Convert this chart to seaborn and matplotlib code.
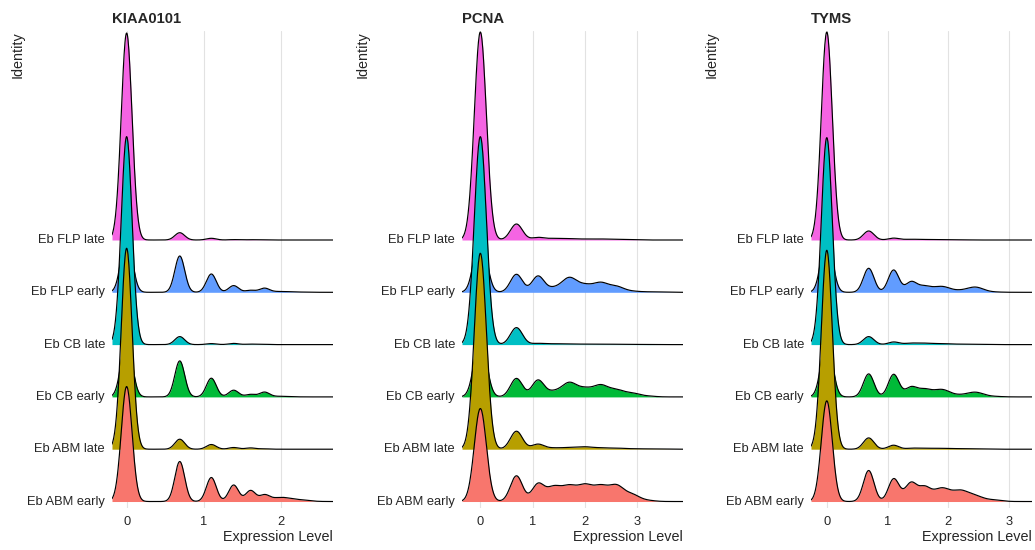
import numpy as np
import pandas as pd
import matplotlib
matplotlib.use("Agg")
import matplotlib.pyplot as plt
import seaborn as sns

# ---------------- data ----------------
GROUPS = ["Eb ABM early", "Eb ABM late", "Eb CB early", "Eb CB late", "Eb FLP early", "Eb FLP late"]
COLORS = ["#F8766D", "#B79F00", "#00BA38", "#00BFC4", "#619CFF", "#F564E3"]
GENES = ["KIAA0101", "PCNA", "TYMS"]

# density support (expression level) for each gene
KIAA0101_RANGE = [-0.19, 2.68]
PCNA_RANGE = [-0.35, 3.87]
TYMS_RANGE = [-0.26, 3.38]

KIAA0101_TICKS = [0, 1, 2]
PCNA_TICKS = [0, 1, 2, 3]
TYMS_TICKS = [0, 1, 2, 3]

# density components: centre (expression level) and kernel width
KIAA0101_CENTERS = [0.0, 0.69, 1.10, 1.39, 1.61, 1.79, 2.00, 2.25]
KIAA0101_WIDTHS = [0.07, 0.064, 0.064, 0.064, 0.064, 0.064, 0.12, 0.12]
# component densities per group (order of GROUPS)
KIAA0101_ABM_EARLY = [115, 40, 24, 16.5, 11, 6, 4, 1.5]
KIAA0101_ABM_LATE = [201, 10, 4.7, 1.7, 1.3, 0.4, 0, 0]
KIAA0101_CB_EARLY = [60, 36, 18.7, 6.7, 2.5, 4.7, 0.6, 0]
KIAA0101_CB_LATE = [208, 8, 1, 1.2, 0.5, 0.3, 0, 0]
KIAA0101_FLP_EARLY = [60, 36.3, 18.3, 6.7, 2, 4, 0.8, 0.2]
KIAA0101_FLP_LATE = [207, 7.3, 1.7, 0.4, 0.3, 0.2, 0, 0]

PCNA_CENTERS = [0.0, 0.69, 1.10, 1.4, 1.7, 2.0, 2.3, 2.6, 2.9, 3.2, 3.5]
PCNA_WIDTHS = [0.115, 0.115, 0.115, 0.14, 0.14, 0.14, 0.14, 0.14, 0.14, 0.14, 0.14]
PCNA_ABM_EARLY = [93, 25.7, 17, 14, 14, 15, 14, 15, 6.5, 1, 0]
PCNA_ABM_LATE = [196, 18, 5, 1.2, 1.5, 2.2, 1.2, 1.0, 0.4, 0.3, 0.2]
PCNA_CB_EARLY = [60, 18.5, 16.5, 5, 13.5, 7.5, 11, 6.5, 3.5, 0.8, 0]
PCNA_CB_LATE = [208, 17, 1.2, 0.8, 0.6, 0.4, 0.4, 0.3, 0.2, 0.1, 0]
PCNA_FLP_EARLY = [60, 18, 16, 4, 14, 6.5, 9, 5.5, 1, 0.4, 0.3]
PCNA_FLP_LATE = [208, 16, 2.5, 1.5, 1.2, 0.8, 0.9, 0.6, 0.3, 0, 0]

TYMS_CENTERS = [0.0, 0.69, 1.10, 1.39, 1.61, 1.3, 1.6, 1.9, 2.2, 2.45, 2.75]
TYMS_WIDTHS = [0.09, 0.087, 0.087, 0.087, 0.087, 0.13, 0.13, 0.13, 0.13, 0.13, 0.13]
TYMS_ABM_EARLY = [100.7, 31, 21.5, 13.3, 5, 4.5, 9, 12.5, 10, 5, 1.5]
TYMS_ABM_LATE = [199, 11.3, 4, 0.8, 0, 0, 1, 0.8, 0.5, 0.3, 0]
TYMS_CB_EARLY = [60, 23, 22, 7, 1, 2, 6.5, 7, 1.5, 4.5, 0.5]
TYMS_CB_LATE = [207, 8, 2.5, 0.8, 0, 0.5, 1.4, 0.9, 0.4, 0.2, 0]
TYMS_FLP_EARLY = [60, 24, 22, 8.7, 1, 1, 5, 5.5, 1.5, 5, 0.3]
TYMS_FLP_LATE = [208, 9, 1.8, 0.4, 0, 0.3, 0.5, 0.3, 0.2, 0, 0]

PANELS = [
    (KIAA0101_RANGE, KIAA0101_TICKS, KIAA0101_CENTERS, KIAA0101_WIDTHS,
     [KIAA0101_ABM_EARLY, KIAA0101_ABM_LATE, KIAA0101_CB_EARLY,
      KIAA0101_CB_LATE, KIAA0101_FLP_EARLY, KIAA0101_FLP_LATE]),
    (PCNA_RANGE, PCNA_TICKS, PCNA_CENTERS, PCNA_WIDTHS,
     [PCNA_ABM_EARLY, PCNA_ABM_LATE, PCNA_CB_EARLY,
      PCNA_CB_LATE, PCNA_FLP_EARLY, PCNA_FLP_LATE]),
    (TYMS_RANGE, TYMS_TICKS, TYMS_CENTERS, TYMS_WIDTHS,
     [TYMS_ABM_EARLY, TYMS_ABM_LATE, TYMS_CB_EARLY,
      TYMS_CB_LATE, TYMS_FLP_EARLY, TYMS_FLP_LATE]),
]

DENSITY_PER_ROW = 52.3  # density units corresponding to one ridge spacing

# ---------------- style ----------------
sns.set_style("white")
plt.rcParams["font.family"] = ["Liberation Sans", "DejaVu Sans"]

fig = plt.figure(figsize=(10.35, 5.5), dpi=100)
lefts = [112 / 1035, 462 / 1035, 811 / 1035]
width = 221 / 1035
bottom = 42 / 550
height = 477 / 550
ylabel_x = [-0.425, -0.448, -0.448]

for p, (gene, (xr, ticks, centers, widths, heights)) in enumerate(zip(GENES, PANELS)):
    ax = fig.add_axes([lefts[p], bottom, width, height])
    xs = np.linspace(xr[0], xr[1], 512)
    c = np.array(centers)[:, None]
    w = np.array(widths)[:, None]
    kern = np.exp(-0.5 * ((xs[None, :] - c) / w) ** 2)
    rows = []
    for gi, (grp, hts) in enumerate(zip(GROUPS, heights)):
        dens = (np.array(hts)[:, None] * kern).sum(axis=0) / DENSITY_PER_ROW
        rows.append(pd.DataFrame({"x": xs, "y": gi + dens, "base": gi, "group": grp}))
    df = pd.concat(rows, ignore_index=True)

    for gi, grp in enumerate(GROUPS):
        sub = df[df["group"] == grp]
        z = 20 - 2 * gi
        ax.fill_between(sub["x"], sub["base"], sub["y"], color=COLORS[gi],
                        linewidth=0, zorder=z)
        sns.lineplot(data=sub, x="x", y="y", color="black", linewidth=0.85,
                     ax=ax, sort=False, estimator=None, zorder=z + 1)

    ax.set_xlim(xr[0], xr[1])
    ax.set_ylim(-0.124, 8.996)
    ax.set_xticks(ticks)
    ax.set_xticklabels([str(t) for t in ticks])
    ax.set_yticks(range(len(GROUPS)))
    ax.set_yticklabels(GROUPS)
    ax.tick_params(axis="both", length=0, labelsize=9.3, colors="#262626")
    ax.tick_params(axis="x", pad=5.5)
    ax.tick_params(axis="y", pad=5)
    for lbl in ax.get_yticklabels():
        lbl.set_va("center")
    ax.grid(axis="x", color="#E2E2E2", linewidth=0.8)
    ax.grid(axis="y", visible=False)
    ax.set_axisbelow(True)
    for s in ax.spines.values():
        s.set_visible(False)

    ax.set_title(gene, loc="left", fontsize=10.7, fontweight="bold", pad=5.5)
    ax.set_xlabel("Expression Level", fontsize=10.4, loc="right")
    ax.xaxis.label.set_va("center")
    ax.xaxis.set_label_coords(1.0, -0.061)
    ax.set_ylabel("Identity", fontsize=10.4, loc="top")
    ax.yaxis.label.set_va("center")
    ax.yaxis.set_label_coords(ylabel_x[p], 1.0)

fig.savefig("out.png", dpi=100)
